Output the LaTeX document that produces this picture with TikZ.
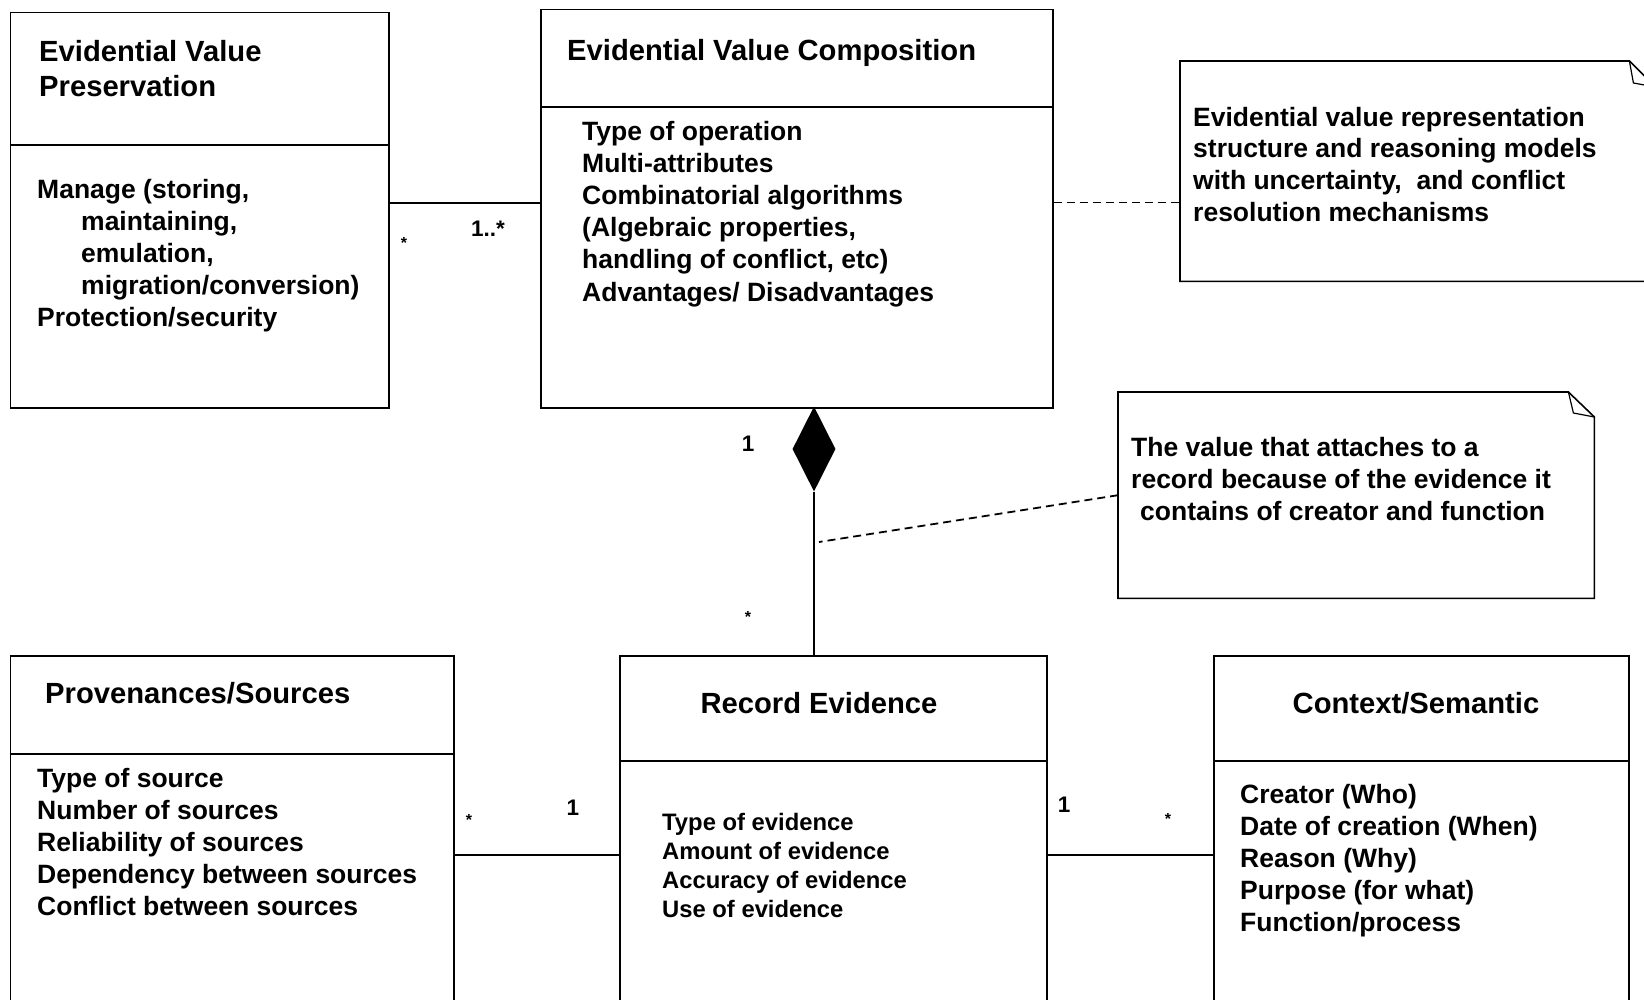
\documentclass[tikz,border=0pt]{standalone}
\usepackage{fontspec}
\setmainfont{Liberation Sans}
\usetikzlibrary{shapes.geometric}

\begin{document}
\begin{tikzpicture}[x=1pt,y=-1pt,
  box/.style={draw, line width=1.6pt, rectangle, inner sep=0pt, anchor=north west},
  sepline/.style={line width=2.8pt},
  link/.style={line width=1.8pt},
  notebox/.style={rectangle, inner sep=0pt, anchor=north west},
  noteline/.style={line width=1.6pt, line join=miter},
  notelink/.style={line width=1.8pt, dash pattern=on 8pt off 5pt},
  ttl/.style={font=\fontsize{29.2}{35}\selectfont\bfseries, inner sep=0pt},
  txt/.style={font=\fontsize{26.5}{32}\selectfont\bfseries, inner sep=0pt, anchor=base west},
  smalltxt/.style={font=\fontsize{23.8}{29}\selectfont\bfseries, inner sep=0pt, anchor=base west},
  mult/.style={font=\fontsize{22.5}{27}\selectfont\bfseries, inner sep=0pt},
  star/.style={font=\fontsize{16}{19}\selectfont\bfseries, inner sep=0pt, anchor=base},
]
\useasboundingbox (0,0) rectangle (1644,999);
\fill[white] (0,0) rectangle (1644,999);
\clip (0,0) rectangle (1644,999);

% ---------- class boxes ----------
\node[box, minimum width=378.5pt, minimum height=395.5pt] (pres) at (9.5,11.5) {};
\draw[sepline] (pres.west |- 0,145) -- (pres.east |- 0,145);

\node[box, minimum width=512pt, minimum height=398.5pt] (comp) at (540,8.5) {};
\draw[sepline] (comp.west |- 0,107) -- (comp.east |- 0,107);

\node[box, minimum width=443.5pt, minimum height=360pt] (prov) at (9.5,655) {};
\draw[sepline] (prov.west |- 0,754) -- (prov.east |- 0,754);

\node[box, minimum width=427pt, minimum height=360pt] (rec) at (619,655) {};
\draw[sepline] (rec.west |- 0,761) -- (rec.east |- 0,761);

\node[box, minimum width=415pt, minimum height=360pt] (ctx) at (1213,655) {};
\draw[sepline] (ctx.west |- 0,761) -- (ctx.east |- 0,761);

% ---------- notes with folded corner ----------
\node[notebox, minimum width=475pt, minimum height=220pt] (note1) at (1180,61) {};
\draw[noteline] (note1.north west) -- ([xshift=-26pt]note1.north east)
  -- ([yshift=-26pt]note1.north east) -- (note1.south east)
  -- (note1.south west) -- cycle;
\draw[line width=1.2pt] ([xshift=-26pt]note1.north east)
  -- ([xshift=-22pt,yshift=-22pt]note1.north east)
  -- ([yshift=-26pt]note1.north east);

\node[notebox, minimum width=476pt, minimum height=206pt] (note2) at (1118,392) {};
\draw[noteline] (note2.north west) -- ([xshift=-26pt]note2.north east)
  -- ([yshift=-25pt]note2.north east) -- (note2.south east)
  -- (note2.south west) -- cycle;
\draw[line width=1.2pt] ([xshift=-26pt]note2.north east)
  -- ([xshift=-21pt,yshift=-21pt]note2.north east)
  -- ([yshift=-25pt]note2.north east);

% ---------- composition diamond ----------
\node[diamond, fill=black, inner sep=0pt, minimum width=43pt, minimum height=85pt] (dia) at (814,449) {};

% ---------- connectors ----------
\draw[link] ([yshift=7pt]pres.east) -- ([yshift=7pt]pres.east -| comp.west);
\draw[notelink] ([yshift=6pt]comp.east) -- ([yshift=6pt]comp.east -| note1.west);
\draw[link] (dia.south) -- (dia.south |- rec.north);
\coordinate (tie) at (819,542);
\draw[notelink] (note2.west) -- (tie);
\draw[link] ([yshift=-19.5pt]prov.east) -- ([yshift=-19.5pt]prov.east -| rec.west);
\draw[link] ([yshift=-19.5pt]rec.east) -- ([yshift=-19.5pt]rec.east -| ctx.west);

% ---------- multiplicities ----------
\node[star] (m1) at (404,248) {*};
\node[mult] (m2) at (488,229) {1..*};
\node[mult] (m3) at (748,444) {1};
\node[star] (m4) at (748,622) {*};
\node[star] (m5) at (469,825) {*};
\node[mult] (m6) at (573,808) {1};
\node[mult] (m7) at (1064,805) {1};
\node[star] (m8) at (1168,824) {*};

% ---------- titles ----------
\node[ttl, anchor=base west] (presT1) at (39,61) {Evidential Value};
\node[ttl, anchor=base west] (presT2) at (39,96.5) {Preservation};
\node[ttl, anchor=base west] (compT) at (567,60) {Evidential Value Composition};
\node[ttl, anchor=base west] (provT) at (45,703.5) {Provenances/Sources};
\node[ttl, anchor=base] (recT) at (819,713) {Record Evidence};
\node[ttl, anchor=base] (ctxT) at (1416,713) {Context/Semantic};

% ---------- attributes ----------
\node[txt] (presA1) at (37,198) {Manage (storing,};
\node[txt] (presA2) at (81,230) {maintaining,};
\node[txt] (presA3) at (81,262) {emulation,};
\node[txt] (presA4) at (81,294) {migration/conversion)};
\node[txt] (presA5) at (37,326) {Protection/security};

\foreach \t [count=\i from 0] in {Type of operation, Multi-attributes,
    Combinatorial algorithms, {(Algebraic properties,}, {handling of conflict, etc)},
    Advantages/ Disadvantages}
  \node[txt] (compA\i) at (582,{140.5+32.1*\i}) {\t};

\foreach \t [count=\i from 0] in {Type of source, Number of sources,
    Reliability of sources, Dependency between sources, Conflict between sources}
  \node[txt] (provA\i) at (37,{787.5+32*\i}) {\t};

\foreach \t [count=\i from 0] in {Type of evidence, Amount of evidence,
    Accuracy of evidence, Use of evidence}
  \node[smalltxt] (recA\i) at (662,{830.5+29*\i}) {\t};

\foreach \t [count=\i from 0] in {Creator (Who), Date of creation (When),
    Reason (Why), Purpose (for what), Function/process}
  \node[txt] (ctxA\i) at (1240,{803+32.2*\i}) {\t};

% ---------- note texts ----------
\foreach \t [count=\i from 0] in {Evidential value representation,
    structure and reasoning models, {with uncertainty,~ and conflict},
    resolution mechanisms}
  \node[txt] (n1L\i) at (1193,{126+31.7*\i}) {\t};

\node[txt] (n2L0) at (1131,456) {The value that attaches to a};
\node[txt] (n2L1) at (1131,488.5) {record because of the evidence it};
\node[txt] (n2L2) at (1140,520.5) {contains of creator and function};
\end{tikzpicture}
\end{document}
